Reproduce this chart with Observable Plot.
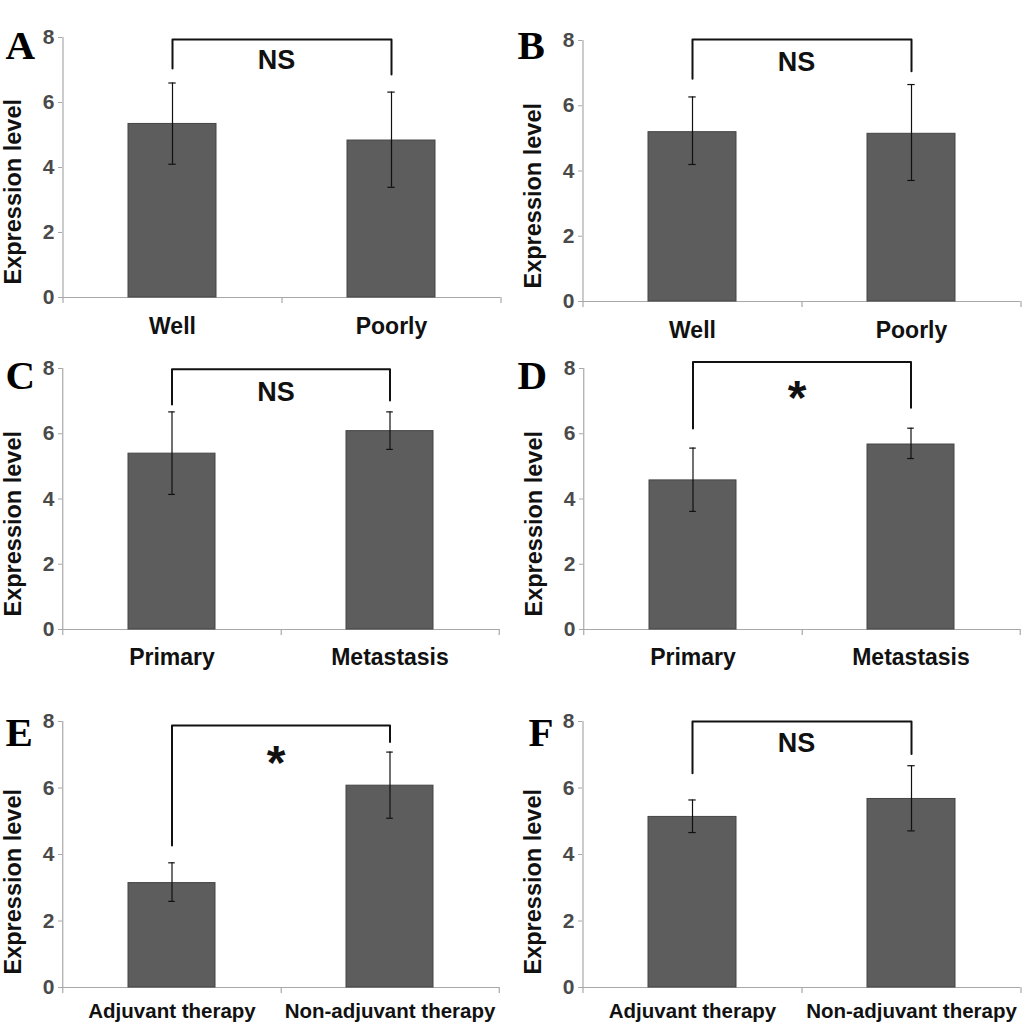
<!DOCTYPE html>
<html>
<head>
<meta charset="utf-8">
<script src="https://cdn.jsdelivr.net/npm/d3@7"></script>
<script src="https://cdn.jsdelivr.net/npm/@observablehq/plot@0.6"></script>
<style>
  body { margin: 0; background: #fff; }
  #fig { position: relative; width: 1033px; height: 1033px; overflow: hidden; }
  .panel { position: absolute; }
</style>
</head>
<body>
<div id="fig"></div>
<script>
// données (6 panneaux A-F)
const letters = ["A", "B", "C", "D", "E", "F"];
const categories = [
  ["Well", "Poorly"],
  ["Well", "Poorly"],
  ["Primary", "Metastasis"],
  ["Primary", "Metastasis"],
  ["Adjuvant therapy", "Non-adjuvant therapy"],
  ["Adjuvant therapy", "Non-adjuvant therapy"]
];
const means   = [[5.34, 4.83], [5.19, 5.14], [5.39, 6.08], [4.57, 5.67], [3.14, 6.07], [5.13, 5.67]];
const errLow  = [[4.10, 3.39], [4.20, 3.71], [4.14, 5.52], [3.62, 5.24], [2.59, 5.09], [4.66, 4.71]];
const errHigh = [[6.60, 6.32], [6.27, 6.65], [6.67, 6.67], [5.56, 6.17], [3.75, 7.08], [5.64, 6.67]];
const bracketTop   = [7.94, 8.03, 7.98, 8.20, 7.88, 8.00];
const bracketLeft  = [7.05, 6.83, 6.90, 6.16, 4.27, 6.44];
const bracketRight = [6.86, 7.06, 7.02, 6.80, 7.38, 7.02];
const significance = ["NS", "NS", "NS", "*", "*", "NS"];
const significanceY = [7.29, 7.32, 7.27, 7.42, 7.06, 7.34];
const yTicks = [0, 2, 4, 6, 8];
const yLabel = "Expression level";

// mise en page de chaque panneau (pixels)
const layout = [
  {left: 0,   top: 0,   width: 510, height: 345, mt: 37, mb: 48, ml: 62, mr: 10, ldx: -57, ldy: 21, xfont: 23, xpad: 20},
  {left: 510, top: 0,   width: 523, height: 345, mt: 40, mb: 44, ml: 72, mr: 13, ldx: -65, ldy: 18, xfont: 23, xpad: 20},
  {left: 0,   top: 345, width: 510, height: 345, mt: 23, mb: 61, ml: 62, mr: 11, ldx: -57, ldy: 20, xfont: 23, xpad: 19},
  {left: 510, top: 345, width: 523, height: 345, mt: 23, mb: 61, ml: 73, mr: 13, ldx: -66, ldy: 20, xfont: 23, xpad: 19},
  {left: 0,   top: 690, width: 510, height: 343, mt: 31, mb: 46, ml: 62, mr: 11, ldx: -57, ldy: 24, xfont: 20.5, xpad: 16},
  {left: 510, top: 690, width: 523, height: 343, mt: 31, mb: 46, ml: 72, mr: 13, ldx: -54, ldy: 24, xfont: 20.5, xpad: 16}
];

const barFill = "#5d5d5d";
const barStroke = "#454545";
const axisGray = "#a8a8a8";

function createPanel(i) {
  const L = layout[i];
  const cats = categories[i];
  const rows = cats.map((c, j) => ({cat: c, mean: means[i][j], lo: errLow[i][j], hi: errHigh[i][j]}));
  const bracket = [
    {cat: cats[0], v: bracketLeft[i]},
    {cat: cats[0], v: bracketTop[i]},
    {cat: cats[1], v: bracketTop[i]},
    {cat: cats[1], v: bracketRight[i]}
  ];
  const frameW = L.width - L.ml - L.mr;
  const step = frameW / 2;
  const bandW = step * 0.4;
  const capInset = (bandW - 7) / 2;
  const isStar = significance[i] === "*";

  const plot = Plot.plot({
    width: L.width,
    height: L.height,
    marginTop: L.mt,
    marginBottom: L.mb,
    marginLeft: L.ml,
    marginRight: L.mr,
    style: {fontFamily: "'Liberation Sans', Arial, sans-serif", fontWeight: "bold", background: "transparent", overflow: "visible"},
    x: {domain: cats, paddingInner: 0.6, paddingOuter: 0.3, axis: null},
    y: {domain: [0, 8], axis: null},
    marks: [
      // axes façon Excel
      Plot.ruleY([0], {stroke: axisGray, strokeWidth: 1.2}),
      Plot.ruleX([cats[0]], {x: d => d, dx: -step / 2, stroke: axisGray, strokeWidth: 1.2, insetBottom: -6}),
      Plot.ruleX(cats, {x: d => d, dx: step / 2, stroke: axisGray, strokeWidth: 1.2, insetTop: L.height - L.mt - L.mb, insetBottom: -6}),
      Plot.axisY({ticks: yTicks, tickSize: 4, tickPadding: 4, stroke: axisGray, fill: "#4a4a4a", fontSize: 21, fontWeight: "bold", label: null}),
      Plot.axisX({tickSize: 0, tickPadding: L.xpad, fill: "#111", fontSize: L.xfont, fontWeight: "bold", label: null}),
      // barres + erreurs
      Plot.barY(rows, {x: "cat", y: "mean", fill: barFill, stroke: barStroke, strokeWidth: 1}),
      Plot.ruleX(rows, {x: "cat", y1: "lo", y2: "hi", stroke: "#111", strokeWidth: 1.2}),
      Plot.tickY(rows, {x: "cat", y: "lo", stroke: "#111", strokeWidth: 1.2, insetLeft: capInset, insetRight: capInset}),
      Plot.tickY(rows, {x: "cat", y: "hi", stroke: "#111", strokeWidth: 1.2, insetLeft: capInset, insetRight: capInset}),
      // crochet de significativité
      Plot.line(bracket, {x: "cat", y: "v", stroke: "#111", strokeWidth: 2}),
      Plot.text([significance[i]], {
        text: d => d,
        y: () => significanceY[i],
        dx: -5,
        dy: isStar ? 11 : 0,
        fontSize: isStar ? 48 : 27,
        fontWeight: "bold",
        fill: "#111"
      }),
      // titre de l'axe Y
      Plot.text([yLabel], {
        text: d => d,
        frameAnchor: "bottom-left",
        rotate: -90,
        textAnchor: "start",
        dx: -42,
        dy: -13,
        fontSize: 23.5,
        fontWeight: "bold",
        fill: "#111"
      }),
      // lettre du panneau
      Plot.text([letters[i]], {
        text: d => d,
        frameAnchor: "top-left",
        textAnchor: "start",
        lineAnchor: "bottom",
        dx: L.ldx,
        dy: L.ldy,
        fontSize: 41,
        fontWeight: "bold",
        fontFamily: "'Liberation Serif', 'Times New Roman', serif",
        fill: "#000"
      })
    ]
  });

  const div = document.createElement("div");
  div.className = "panel";
  div.style.left = L.left + "px";
  div.style.top = L.top + "px";
  div.appendChild(plot);
  document.getElementById("fig").appendChild(div);
}

letters.forEach((_, i) => {
  try {
    createPanel(i);
  } catch (error) {
    console.error("Erreur panneau " + letters[i], error);
  }
});
</script>
</body>
</html>
